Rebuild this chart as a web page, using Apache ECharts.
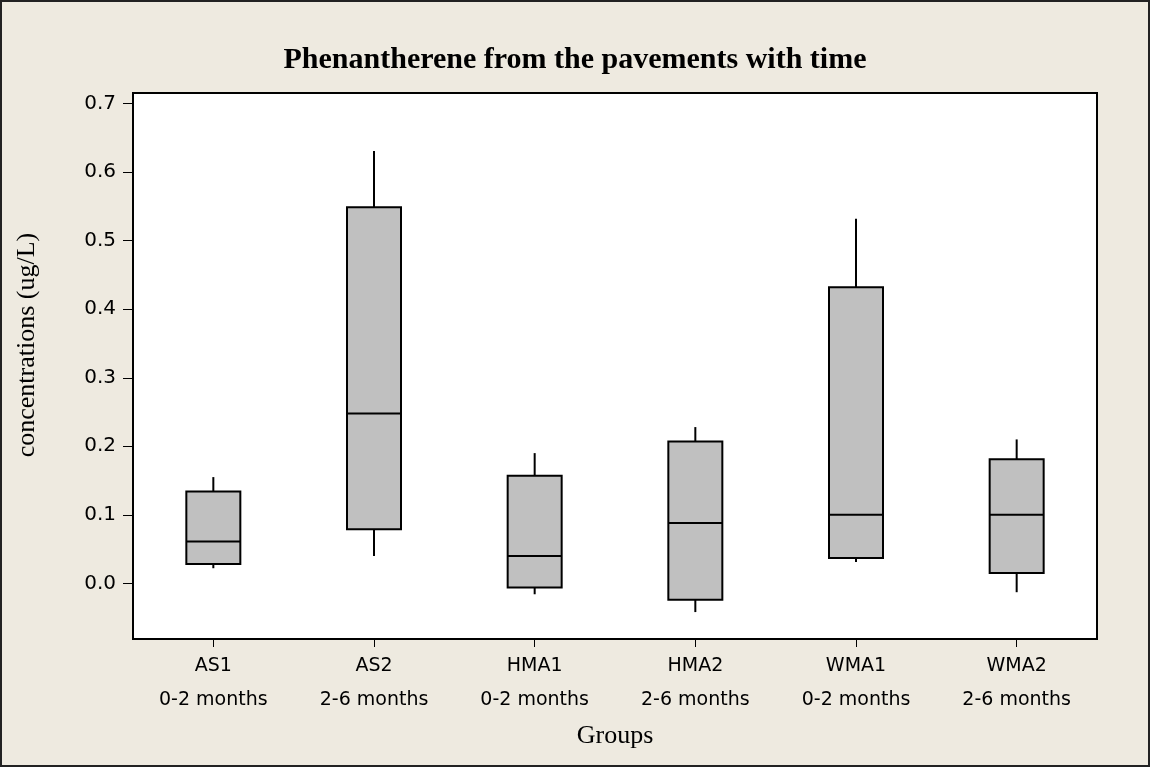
<!DOCTYPE html>
<html>
<head>
<meta charset="utf-8">
<title>Phenantherene from the pavements with time</title>
<script src="https://cdn.jsdelivr.net/npm/echarts@6/dist/echarts.min.js"></script>
<style>
  html, body { margin: 0; padding: 0; background: #EEEAE0; }
  #chart { width: 1150px; height: 767px; }
</style>
</head>
<body>
<div id="chart"></div>
<script>
// Groups and sampling periods (two-line category labels)
const groups = ['AS1', 'AS2', 'HMA1', 'HMA2', 'WMA1', 'WMA2'];
const periods = ['0-2 months', '2-6 months', '0-2 months', '2-6 months', '0-2 months', '2-6 months'];

// Box-plot statistics per group, concentrations in ug/L
const whiskerLow  = [0.022, 0.040, -0.016, -0.042, 0.031, -0.013];
const q1          = [0.028, 0.079, -0.006, -0.024, 0.037, 0.015];
const median      = [0.061, 0.248, 0.040, 0.088, 0.100, 0.100];
const q3          = [0.134, 0.549, 0.157, 0.207, 0.432, 0.181];
const whiskerHigh = [0.155, 0.631, 0.190, 0.228, 0.532, 0.210];

// Value-axis tick labels
const yTicks = [0.0, 0.1, 0.2, 0.3, 0.4, 0.5, 0.6, 0.7];

const boxData = groups.map((g, i) => [i, whiskerLow[i], q1[i], median[i], q3[i], whiskerHigh[i]]);

const chart = echarts.init(document.getElementById('chart'), null, { renderer: 'canvas' });

// One box: whiskers without end caps, filled box, median line
function renderBox(params, api) {
  const i = api.value(0);
  const x = api.coord([i, 0])[0];
  const yLo = api.coord([i, api.value(1)])[1];
  const yQ1 = api.coord([i, api.value(2)])[1];
  const yMed = api.coord([i, api.value(3)])[1];
  const yQ3 = api.coord([i, api.value(4)])[1];
  const yHi = api.coord([i, api.value(5)])[1];
  const half = 27;
  const lineStyle = { stroke: '#000', lineWidth: 2 };
  return {
    type: 'group',
    children: [
      { type: 'line', shape: { x1: x, y1: yHi, x2: x, y2: yQ3 }, style: lineStyle },
      { type: 'line', shape: { x1: x, y1: yQ1, x2: x, y2: yLo }, style: lineStyle },
      { type: 'rect', shape: { x: x - half, y: yQ3, width: half * 2, height: yQ1 - yQ3 },
        style: { fill: '#C0C0C0', stroke: '#000', lineWidth: 2 } },
      { type: 'line', shape: { x1: x - half, y1: yMed, x2: x + half, y2: yMed }, style: lineStyle }
    ]
  };
}

chart.setOption({
  backgroundColor: '#EEEAE0',
  animation: false,
  title: {
    text: 'Phenantherene from the pavements with time',
    left: 'center',
    top: 40,
    textStyle: { fontFamily: 'Liberation Serif', fontWeight: 'bold', fontSize: 30, color: '#000' }
  },
  grid: {
    left: 133, top: 93, right: 53, bottom: 128,
    show: true, backgroundColor: '#fff', borderColor: '#000', borderWidth: 2
  },
  xAxis: {
    type: 'category',
    data: groups,
    name: 'Groups',
    nameLocation: 'middle',
    nameGap: 84,
    nameTextStyle: { fontFamily: 'Liberation Serif', fontSize: 26, color: '#000' },
    axisLine: { show: true, onZero: false, lineStyle: { color: '#000', width: 2 } },
    axisTick: { show: true, alignWithLabel: true, length: 8, lineStyle: { color: '#000', width: 1 } },
    axisLabel: {
      margin: 10,
      fontFamily: 'DejaVu Sans', fontSize: 19, color: '#000', lineHeight: 34,
      formatter: (v, idx) => v + '\n' + periods[idx]
    },
    splitLine: { show: false }
  },
  yAxis: {
    type: 'value',
    min: -0.0813,
    max: 0.7156,
    axisLine: { show: true, lineStyle: { color: '#000', width: 2 } },
    axisTick: { show: true, length: 10, customValues: yTicks, lineStyle: { color: '#000', width: 1 } },
    axisLabel: {
      margin: 17,
      customValues: yTicks,
      fontFamily: 'DejaVu Sans', fontSize: 20, color: '#000',
      formatter: v => v.toFixed(1)
    },
    splitLine: { show: false }
  },
  graphic: [
    {
      type: 'text',
      x: 27, y: 345,
      rotation: Math.PI / 2,
      style: {
        text: 'concentrations (ug/L)',
        fontFamily: 'Liberation Serif', fontSize: 26, fill: '#000',
        align: 'center', verticalAlign: 'middle'
      }
    },
    {
      type: 'rect',
      shape: { x: 1, y: 1, width: 1148, height: 765 },
      style: { fill: 'none', stroke: '#222', lineWidth: 2 },
      silent: true
    }
  ],
  series: [{
    type: 'custom',
    renderItem: renderBox,
    data: boxData,
    encode: { x: 0, y: [1, 2, 3, 4, 5] }
  }]
});
</script>
</body>
</html>
